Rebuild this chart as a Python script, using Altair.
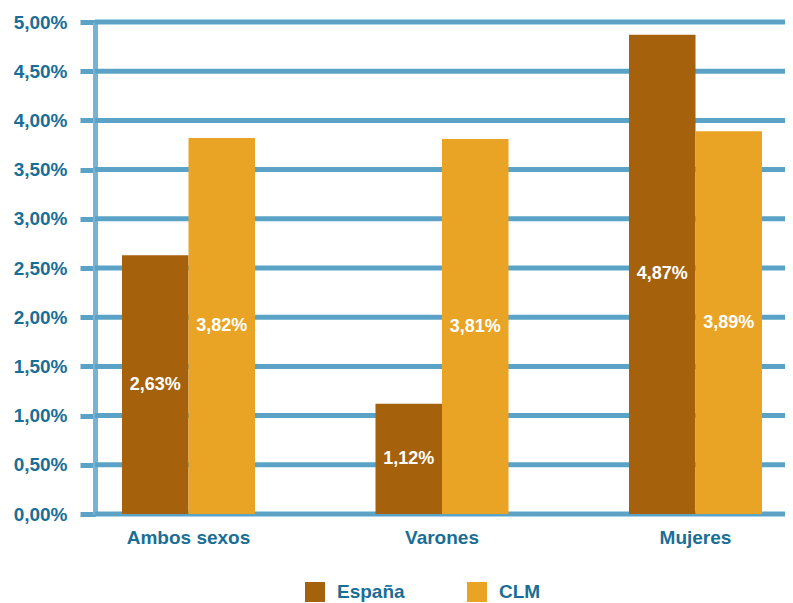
import altair as alt
import pandas as pd

categories = ["Ambos sexos", "Varones", "Mujeres"]
series = ["España", "CLM"]
espana = [2.63, 1.12, 4.87]
clm = [3.82, 3.81, 3.89]
y_ticks = [0.0, 0.005, 0.01, 0.015, 0.02, 0.025, 0.03, 0.035, 0.04, 0.045, 0.05]
colors = ["#a5610b", "#e9a425"]

FONT = "Liberation Sans"
TXT = "#1a6e96"
GRID = "#5ba3c6"
AXLINE = "#79b3d3"

rows = []
for i, c in enumerate(categories):
    for s, vals in zip(series, [espana, clm]):
        v = vals[i]
        rows.append({"cat": c, "serie": s, "val": v / 100,
                     "label": f"{v:.2f}%".replace(".", ",")})
df = pd.DataFrame(rows)
grid_df = pd.DataFrame({"t": y_ticks})

y_axis = alt.Axis(
    title=None, values=y_ticks,
    labelExpr="replace(format(datum.value, '.2%'), '.', ',')",
    grid=False,
    ticks=True, tickSize=15, tickWidth=5, tickColor=GRID,
    domain=True, domainColor=AXLINE, domainWidth=5,
    labelFont=FONT, labelFontSize=19, labelFontWeight="bold", labelColor=TXT,
    labelPadding=13,
)
y_scale = alt.Scale(domain=[0, 0.05], nice=False)

gridlines = alt.Chart(grid_df).mark_rule(color=GRID, strokeWidth=5).encode(
    y=alt.Y("t:Q", scale=y_scale, axis=y_axis)
)

base = alt.Chart(df).encode(
    x=alt.X("cat:N", sort=categories,
            scale=alt.Scale(paddingInner=0.4753, paddingOuter=0.0986, align=0.54),
            axis=alt.Axis(title=None, labelAngle=0, domain=False, ticks=False, grid=False,
                          labelFont=FONT, labelFontSize=19, labelFontWeight="bold",
                          labelColor=TXT, labelPadding=14)),
    xOffset=alt.XOffset("serie:N", sort=series,
                        scale=alt.Scale(paddingInner=0, paddingOuter=0)),
)

bars = base.mark_bar().encode(
    y=alt.Y("val:Q", scale=y_scale, axis=y_axis),
    color=alt.Color("serie:N", sort=series,
                    scale=alt.Scale(domain=series, range=colors),
                    legend=alt.Legend(title=None, orient="none", legendX=210, legendY=560,
                                      direction="horizontal", symbolType="square",
                                      symbolSize=400, symbolStrokeWidth=0, symbolOpacity=1,
                                      labelFont=FONT, labelFontSize=19, labelFontWeight="bold",
                                      labelColor=TXT, labelOffset=12, columnPadding=62,
                                      padding=0)),
)

text = base.transform_calculate(mid="datum.val / 2").mark_text(
    font=FONT, fontSize=18, fontWeight="bold", color="white", baseline="middle"
).encode(
    y=alt.Y("mid:Q", scale=y_scale, axis=y_axis),
    text="label:N",
)

chart = alt.layer(gridlines, bars, text).properties(
    width=690, height=492,
    autosize=alt.AutoSizeParams(type="none"),
    padding={"left": 87, "top": 14, "right": 0, "bottom": 89},
).configure_view(stroke=None)

chart.save("out.html", embed_options={"renderer": "svg", "actions": False})
